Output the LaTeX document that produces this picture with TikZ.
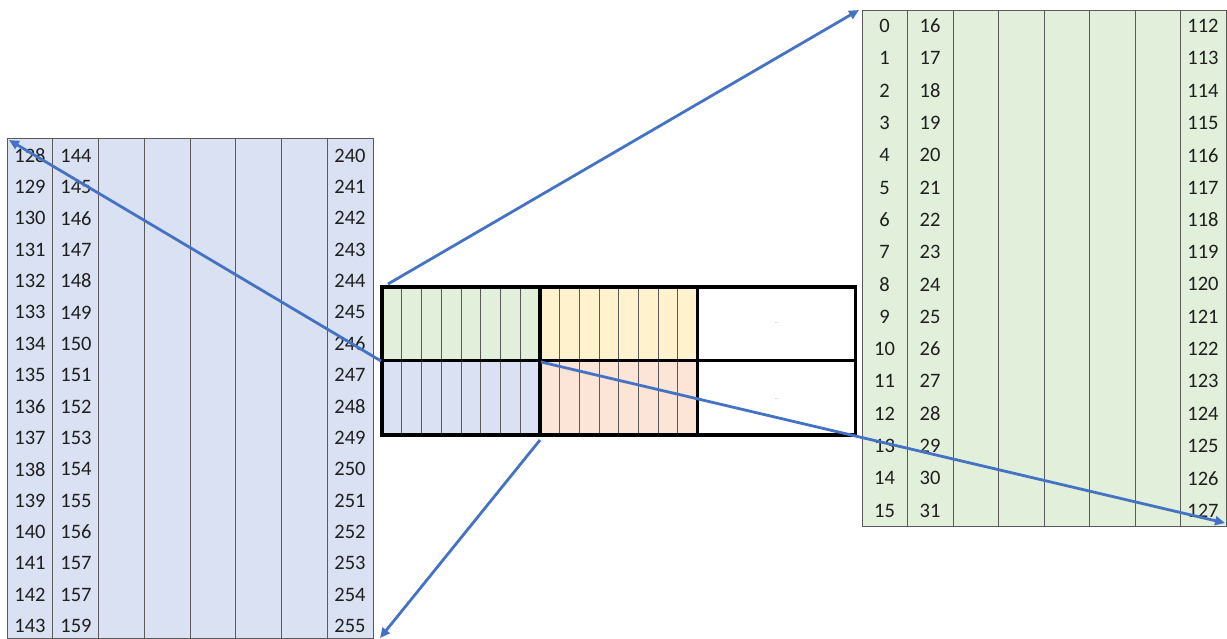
\documentclass[tikz,border=0pt]{standalone}
\usepackage{fontspec}
\setmainfont{Carlito}
\usetikzlibrary{arrows.meta}
\definecolor{cgreen}{HTML}{E2EFDA}
\definecolor{cblue}{HTML}{D9E1F2}
\definecolor{cyellow}{HTML}{FFF2CC}
\definecolor{corange}{HTML}{FCE4D6}
\definecolor{carrow}{HTML}{4472C4}
\definecolor{cgrid}{HTML}{5A5A5A}
\tikzset{
  gridline/.style={draw=cgrid, line width=0.9pt},
  thickline/.style={draw=black, line width=3.2pt},
  num/.style={font=\fontsize{20.5}{20.5}\selectfont, text=black!88, inner sep=0pt, anchor=center},
  link/.style={draw=carrow, line width=2.8pt, -{Triangle[length=10pt,width=9pt]}},
  dots/.style={font=\fontsize{5}{5}\selectfont, text=black!60, inner sep=0pt}
}
\begin{document}
\begin{tikzpicture}[x=1pt,y=-1pt]
\useasboundingbox (0,0) rectangle (1227,639);

% ---------- left table (blue) ----------
\fill[cblue] (7,138) rectangle (373,638);
\foreach \i in {1,...,7} \draw[gridline] ({7+45.75*\i},138) -- ({7+45.75*\i},638);
\draw[gridline] (7,138) rectangle (373,638);
\foreach \r in {0,...,15} {
  \pgfmathtruncatemacro\a{128+\r}
  \pgfmathtruncatemacro\b{ifthenelse(\r==14,157,144+\r)}
  \pgfmathtruncatemacro\c{240+\r}
  \node[num] (L1-\r) at (30,{155.5+31.37*\r}) {\a};
  \node[num] (L2-\r) at (76,{155.5+31.37*\r}) {\b};
  \node[num] (L8-\r) at (350,{155.5+31.37*\r}) {\c};
}

% ---------- right table (green) ----------
\fill[cgreen] (862,10) rectangle (1226,526);
\foreach \i in {1,...,7} \draw[gridline] ({862+45.5*\i},10) -- ({862+45.5*\i},526);
\draw[gridline] (862,10) rectangle (1226,526);
\foreach \r in {0,...,15} {
  \pgfmathtruncatemacro\a{\r}
  \pgfmathtruncatemacro\b{16+\r}
  \pgfmathtruncatemacro\c{112+\r}
  \node[num] (R1-\r) at (884.5,{26+32.3*\r}) {\a};
  \node[num] (R2-\r) at (930,{26+32.3*\r}) {\b};
  \node[num] (R8-\r) at (1203,{26+32.3*\r}) {\c};
}

% ---------- central grid ----------
\fill[cgreen]  (382,287)   rectangle (540,360.5);
\fill[cyellow] (540,287)   rectangle (697.5,360.5);
\fill[cblue]   (382,360.5) rectangle (540,435);
\fill[corange] (540,360.5) rectangle (697.5,435);
\foreach \i in {1,...,7} {
  \draw[gridline, line width=0.8pt] ({382+19.75*\i},287) -- ({382+19.75*\i},437);
  \draw[gridline, line width=0.8pt] ({540+19.69*\i},287) -- ({540+19.69*\i},437);
}
\draw[thickline] (382,287) rectangle (855.5,435);
\draw[thickline] (382,360.5) -- (855.5,360.5);
\draw[thickline] (540,287) -- (540,435);
\draw[thickline] (697.5,287) -- (697.5,435);
\node[dots] (d1) at (777,323) {...};
\node[dots] (d2) at (777,399) {...};

% ---------- arrow end points ----------
\coordinate (gTL) at (388,284);
\coordinate (gBR) at (541,362);
\coordinate (bTL) at (381,361);
\coordinate (bBR) at (540,440);
\coordinate (rTL) at (859,10);
\coordinate (rBR) at (1225,523);
\coordinate (lTL) at (9,140);
\coordinate (lBR) at (380,638);

\draw[link] (gTL) -- (rTL);
\draw[link] (gBR) -- (rBR);
\draw[link] (bTL) -- (lTL);
\draw[link] (bBR) -- (lBR);
\end{tikzpicture}
\end{document}
